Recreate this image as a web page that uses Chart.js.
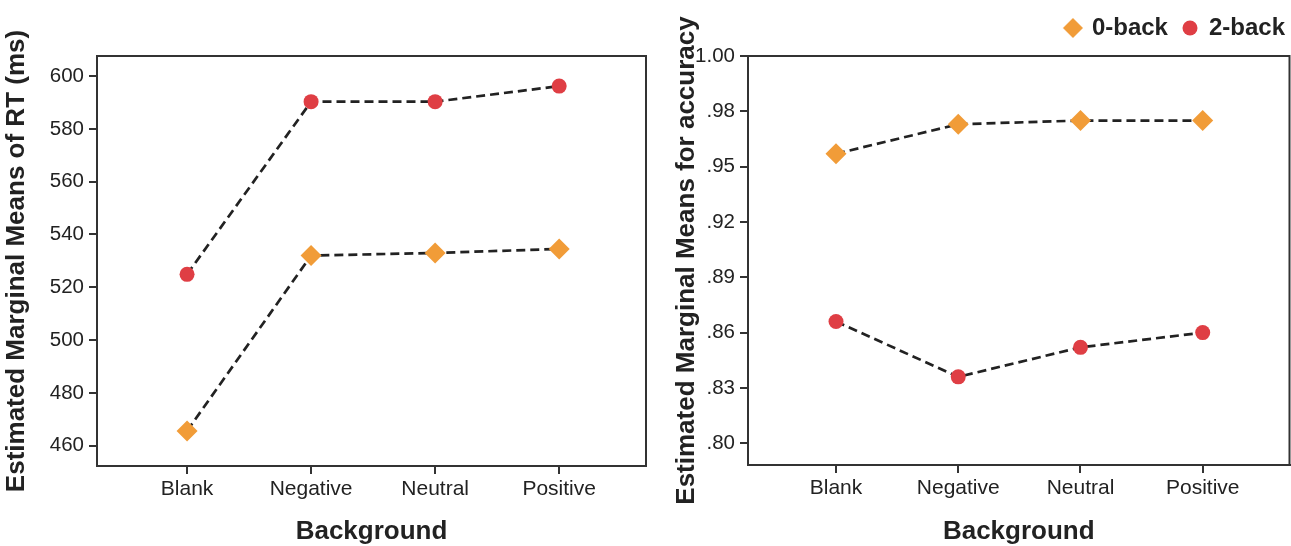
<!DOCTYPE html>
<html>
<head>
<meta charset="UTF-8">
<title>Estimated Marginal Means</title>
<script src="https://cdn.jsdelivr.net/npm/chart.js@4.4.0/dist/chart.umd.min.js"></script>
<style>
html, body { margin: 0; padding: 0; background: #fff; overflow: hidden; width: 1291px; height: 546px; }
#left { position: absolute; left: 0; top: 0; }
#right { position: absolute; left: 660px; top: 0; }
</style>
</head>
<body>
<canvas id="left" width="660" height="546"></canvas>
<canvas id="right" width="640" height="546"></canvas>
<script>
// data
const categories = ['Blank', 'Negative', 'Neutral', 'Positive'];
const seriesNames = ['0-back', '2-back'];
const rtZeroBack = [465.6, 532.0, 533.0, 534.5];
const rtTwoBack = [524.9, 590.3, 590.3, 596.2];
const accZeroBack = [0.957, 0.973, 0.975, 0.975];
const accTwoBack = [0.866, 0.836, 0.852, 0.860];
const rtTicks = [460, 480, 500, 520, 540, 560, 580, 600];
const accTicks = [0.80, 0.83, 0.86, 0.89, 0.92, 0.95, 0.98, 1.01];
const accTickLabels = ['.80', '.83', '.86', '.89', '.92', '.95', '.98', '1.00'];

const ORANGE = '#f19c38';
const RED = '#df3e44';
const INK = '#222';
const AXIS = '#333';

Chart.defaults.font.family = '"Liberation Sans", Arial, sans-serif';
Chart.defaults.color = INK;

// box round the plot area
const framePlugin = {
    id: 'frame',
    beforeDatasetsDraw(chart) {
        const a = chart.chartArea;
        const ctx = chart.ctx;
        ctx.save();
        ctx.strokeStyle = AXIS;
        ctx.lineWidth = 2;
        ctx.strokeRect(a.left, a.top, a.right - a.left, a.bottom - a.top);
        ctx.restore();
    }
};

// legend symbols, sized like the ones in the plot
function legendIcon(style, color) {
    const c = document.createElement('canvas');
    c.width = 22;
    c.height = 22;
    const g = c.getContext('2d');
    g.fillStyle = color;
    g.beginPath();
    if (style === 'circle') {
        g.arc(11, 11, 7.5, 0, Math.PI * 2);
    } else {
        g.moveTo(1, 11); g.lineTo(11, 1); g.lineTo(21, 11); g.lineTo(11, 21);
        g.closePath();
    }
    g.fill();
    return c;
}
const legendIcons = [legendIcon('rectRot', ORANGE), legendIcon('circle', RED)];

function series(name, values, style, radius, color) {
    return {
        label: name,
        data: values.map((v, i) => ({ x: i, y: v })),
        borderColor: INK,
        borderWidth: 2.7,
        borderDash: [9, 5],
        fill: false,
        tension: 0,
        pointStyle: style,
        pointRadius: radius,
        pointHoverRadius: radius,
        pointBackgroundColor: color,
        pointBorderColor: color,
        pointBorderWidth: 0
    };
}

function xAxis(min, max, height) {
    return {
        type: 'linear',
        position: 'bottom',
        min: min,
        max: max,
        afterBuildTicks: s => { s.ticks = categories.map((c, i) => ({ value: i })); },
        afterFit: s => { s.height = height; },
        ticks: { callback: v => categories[v], font: { size: 21 }, color: INK, padding: 3, maxRotation: 0, autoSkip: false },
        grid: { drawOnChartArea: false, drawTicks: true, tickLength: 8, color: AXIS, lineWidth: 2 },
        border: { display: true, color: AXIS, width: 2 },
        title: { display: true, text: 'Background', color: INK, font: { size: 26, weight: 'bold', lineHeight: 1 }, padding: { top: 0, bottom: 1 } }
    };
}

function yAxis(min, max, ticks, labelFn, title, width, titlePad) {
    return {
        type: 'linear',
        position: 'left',
        min: min,
        max: max,
        afterBuildTicks: s => { s.ticks = ticks.map(v => ({ value: v })); },
        afterFit: s => { s.width = width; },
        ticks: { callback: labelFn, font: { size: 20.5 }, color: INK, padding: 5 },
        grid: { drawOnChartArea: false, drawTicks: true, tickLength: 8, color: AXIS, lineWidth: 2 },
        border: { display: true, color: AXIS, width: 2 },
        title: { display: true, text: title, color: INK, font: { size: 26, weight: 'bold', lineHeight: 1 }, padding: { top: titlePad, bottom: 0 } }
    };
}

// empty axes only used to push the plot area in
function spacer(position, size) {
    return {
        type: 'linear',
        position: position,
        display: true,
        ticks: { display: false },
        grid: { display: false },
        border: { display: false },
        afterFit: s => { if (position === 'top') s.height = size; else s.width = size; }
    };
}

new Chart(document.getElementById('left'), {
    type: 'line',
    data: {
        datasets: [
            series(seriesNames[0], rtZeroBack, 'rectRot', 10.5, ORANGE),
            series(seriesNames[1], rtTwoBack, 'circle', 7.5, RED)
        ]
    },
    options: {
        responsive: false,
        animation: false,
        layout: { padding: { top: 56, right: 14, bottom: 0, left: 0 } },
        scales: {
            x: xAxis(-0.726, 3.70, 80),
            y: yAxis(452.3, 607.6, rtTicks, v => String(v), 'Estimated Marginal Means of RT (ms)', 97, 4)
        },
        plugins: { legend: { display: false }, tooltip: { enabled: false } }
    },
    plugins: [framePlugin]
});

new Chart(document.getElementById('right'), {
    type: 'line',
    data: {
        datasets: [
            series(seriesNames[0], accZeroBack, 'rectRot', 10.5, ORANGE),
            series(seriesNames[1], accTwoBack, 'circle', 7.5, RED)
        ]
    },
    options: {
        responsive: false,
        animation: false,
        layout: { padding: { top: 1, right: 0, bottom: 0, left: 0 } },
        scales: {
            x: xAxis(-0.72, 3.71, 81),
            y: yAxis(0.7882, 1.01, accTicks, (v, i) => accTickLabels[i], 'Estimated Marginal Means for accuracy', 88, 14),
            xPad: spacer('top', 6),
            yPad: spacer('right', 10)
        },
        plugins: {
            legend: {
                display: true,
                position: 'top',
                align: 'end',
                labels: {
                    usePointStyle: true, boxWidth: 14, boxHeight: 13, padding: 15, color: INK,
                    font: { size: 24, weight: 'bold' },
                    generateLabels: chart => Chart.defaults.plugins.legend.labels.generateLabels(chart)
                        .map((item, i) => Object.assign(item, { pointStyle: legendIcons[i] }))
                }
            },
            tooltip: { enabled: false }
        }
    },
    plugins: [framePlugin]
});
</script>
</body>
</html>
